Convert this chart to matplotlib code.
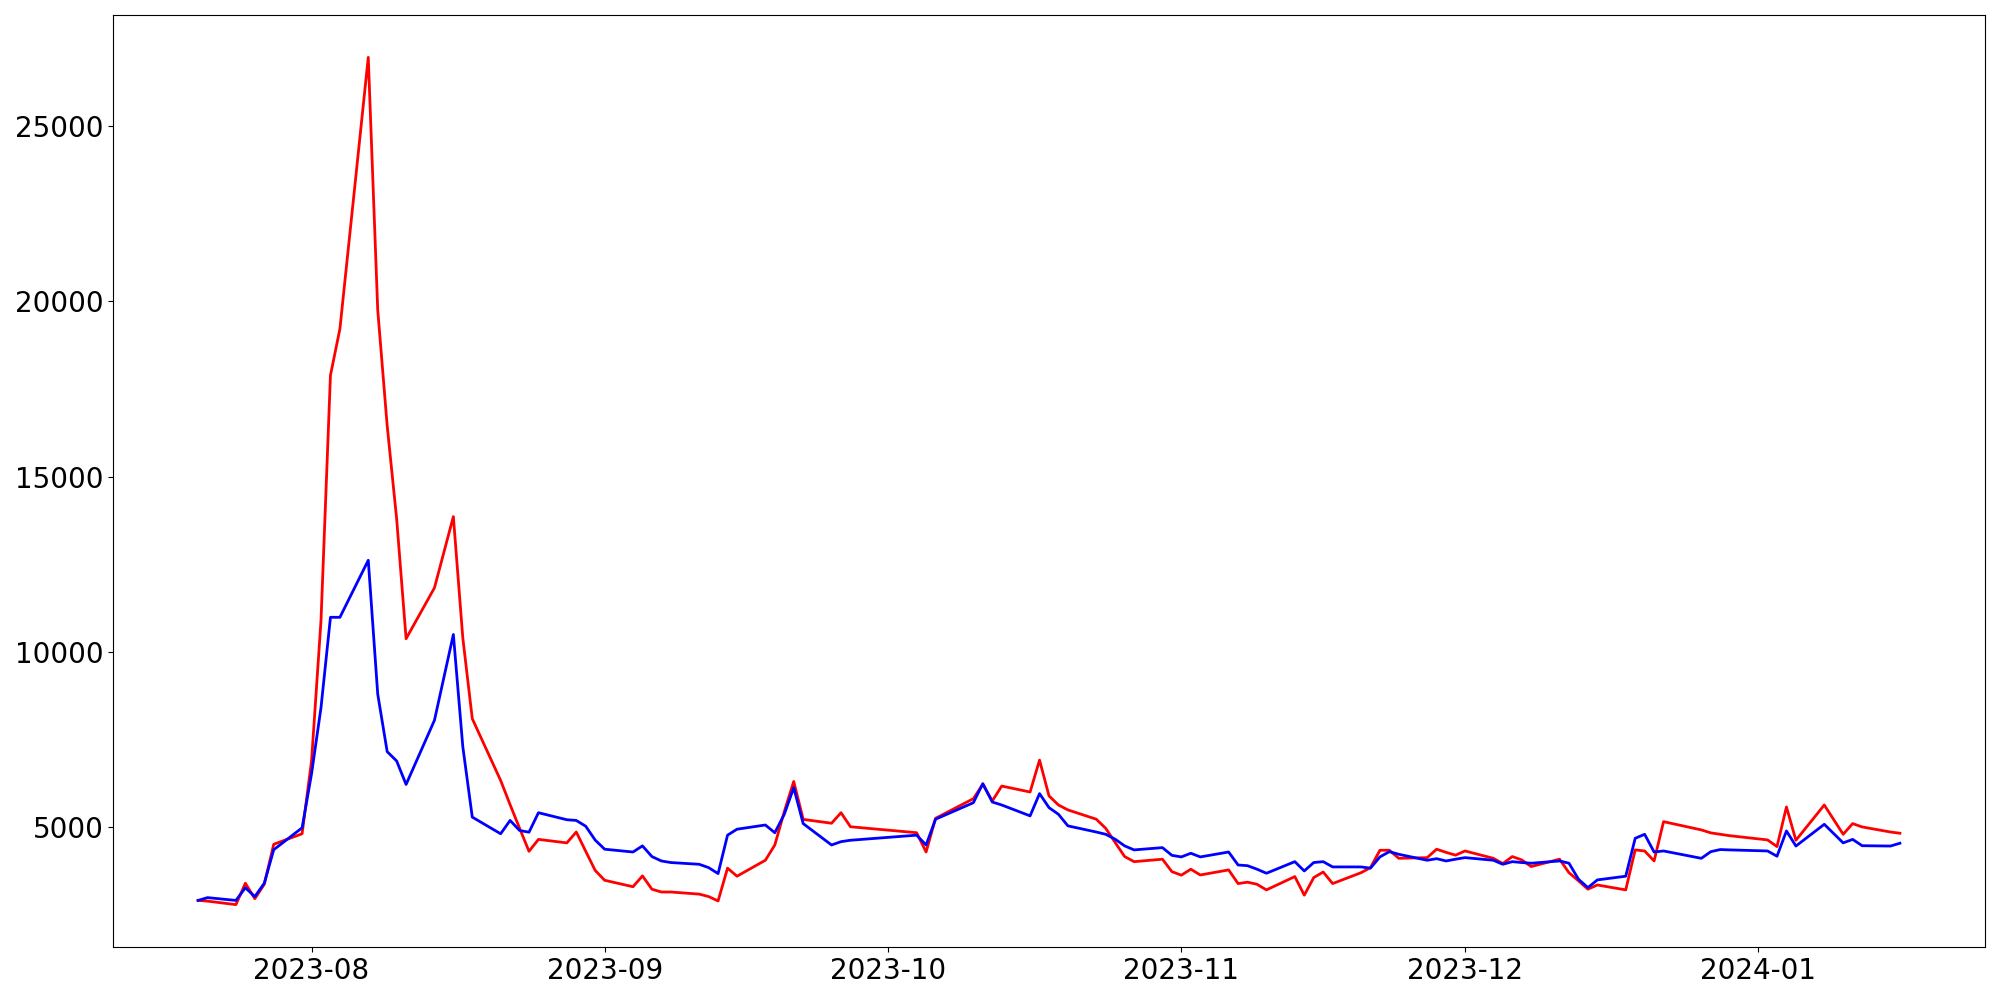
import pandas as pd
import matplotlib
matplotlib.use("Agg")
import matplotlib.pyplot as plt

# trading days shown on the chart
dates = [
    "2023-07-20", "2023-07-21", "2023-07-24", "2023-07-25", "2023-07-26", "2023-07-27", "2023-07-28", "2023-07-31",
    "2023-08-01", "2023-08-02", "2023-08-03", "2023-08-04", "2023-08-07", "2023-08-08", "2023-08-09", "2023-08-10",
    "2023-08-11", "2023-08-14", "2023-08-16", "2023-08-17", "2023-08-18", "2023-08-21", "2023-08-22", "2023-08-23",
    "2023-08-24", "2023-08-25", "2023-08-28", "2023-08-29", "2023-08-30", "2023-08-31",
    "2023-09-01", "2023-09-04", "2023-09-05", "2023-09-06", "2023-09-07", "2023-09-08", "2023-09-11", "2023-09-12",
    "2023-09-13", "2023-09-14", "2023-09-15", "2023-09-18", "2023-09-19", "2023-09-20", "2023-09-21", "2023-09-22",
    "2023-09-25", "2023-09-26", "2023-09-27",
    "2023-10-04", "2023-10-05", "2023-10-06", "2023-10-10", "2023-10-11", "2023-10-12", "2023-10-13", "2023-10-16",
    "2023-10-17", "2023-10-18", "2023-10-19", "2023-10-20", "2023-10-23", "2023-10-24", "2023-10-25", "2023-10-26",
    "2023-10-27", "2023-10-30", "2023-10-31",
    "2023-11-01", "2023-11-02", "2023-11-03", "2023-11-06", "2023-11-07", "2023-11-08", "2023-11-09", "2023-11-10",
    "2023-11-13", "2023-11-14", "2023-11-15", "2023-11-16", "2023-11-17", "2023-11-20", "2023-11-21", "2023-11-22",
    "2023-11-23", "2023-11-24", "2023-11-27", "2023-11-28", "2023-11-29", "2023-11-30",
    "2023-12-01", "2023-12-04", "2023-12-05", "2023-12-06", "2023-12-07", "2023-12-08", "2023-12-11", "2023-12-12",
    "2023-12-13", "2023-12-14", "2023-12-15", "2023-12-18", "2023-12-19", "2023-12-20", "2023-12-21", "2023-12-22",
    "2023-12-26", "2023-12-27", "2023-12-28", "2023-12-29",
    "2024-01-02", "2024-01-03", "2024-01-04", "2024-01-05", "2024-01-08", "2024-01-10", "2024-01-11", "2024-01-12",
    "2024-01-15", "2024-01-16",
]

red_values = [
    2920, 2900, 2800, 3410, 2970, 3380, 4520, 4820,
    6900, 10900, 17890, 19210, 26950, 19750, 16450, 13800,
    10380, 11830, 13860, 10400, 8100, 6340, 5650, 4980,
    4320, 4660, 4560, 4870, 4320, 3775,
    3495, 3310, 3620, 3240, 3160, 3160, 3100, 3030,
    2905, 3840, 3610, 4065, 4500, 5450, 6310, 5230,
    5120, 5420, 5020,
    4850, 4300, 5260, 5820, 6230, 5755, 6180, 6010,
    6920, 5900, 5640, 5500, 5235, 4975, 4570, 4170,
    4025, 4095, 3740,
    3640, 3810, 3645, 3790, 3400, 3440, 3380, 3220,
    3600, 3070, 3570, 3730, 3400, 3710, 3855, 4350,
    4350, 4120, 4140, 4380, 4290, 4210,
    4330, 4120, 3970, 4170, 4075, 3885, 4095, 3710,
    3480, 3240, 3360, 3220, 4360, 4330, 4045, 5165,
    4930, 4845, 4805, 4765,
    4645, 4455, 5585, 4635, 5640, 4805, 5110, 5015,
    4870, 4835,
]

blue_values = [
    2920, 3000, 2920, 3280, 3030, 3410, 4365, 4990,
    6530, 8415, 10990, 10990, 12615, 8800, 7160, 6895,
    6225, 8055, 10500, 7300, 5295, 4820, 5200, 4915,
    4865, 5420, 5220, 5200, 5035, 4640,
    4380, 4300, 4475, 4170, 4045, 4000, 3950, 3855,
    3685, 4780, 4950, 5070, 4850, 5375, 6135, 5110,
    4500, 4595, 4635,
    4780, 4500, 5235, 5705, 6250, 5725, 5640, 5330,
    5965, 5565, 5375, 5045, 4870, 4805, 4665, 4475,
    4360, 4425, 4205,
    4160, 4265, 4160, 4300, 3930, 3910, 3810, 3695,
    4025, 3760, 4000, 4025, 3875, 3875, 3840, 4160,
    4310, 4235, 4065, 4110, 4045, 4095,
    4140, 4065, 3950, 4025, 4000, 3980, 4045, 3980,
    3525, 3285, 3505, 3610, 4690, 4805, 4300, 4330,
    4120, 4310, 4370, 4360,
    4330, 4180, 4900, 4470, 5090, 4560, 4660, 4480,
    4470, 4550,
]

x = pd.to_datetime(dates)

fig, ax = plt.subplots(figsize=(20, 10), dpi=100)
ax.plot(x, red_values, color="red", linewidth=2)
ax.plot(x, blue_values, color="blue", linewidth=2)
ax.tick_params(labelsize=20)

fig.subplots_adjust(left=0.0565, right=0.9925, top=0.985, bottom=0.053)
fig.savefig("out.png")
